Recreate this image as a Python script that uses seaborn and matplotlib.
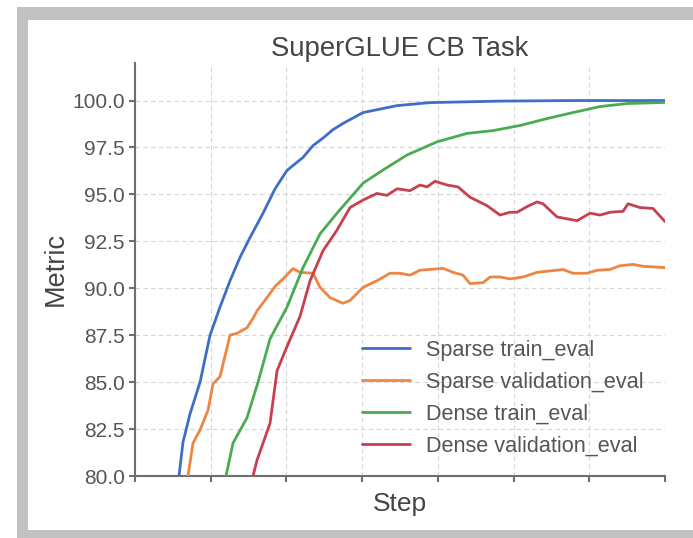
import matplotlib
matplotlib.use("Agg")
import matplotlib.pyplot as plt
from matplotlib.patches import Rectangle
import pandas as pd
import seaborn as sns

# Evaluation curves (step, metric) for each run
sparse_train_steps = [581, 634, 726, 859, 991, 1123, 1255, 1387, 1519, 1691, 1850, 2008,
                      2219, 2351, 2483, 2615, 2747, 3012, 3461, 3896, 4821, 5800, 7000]
sparse_train_vals = [80.0, 81.8, 83.3, 85.0, 87.5, 89.0, 90.4, 91.65, 92.7, 94.0, 95.3, 96.28,
                     96.97, 97.6, 98.0, 98.45, 98.78, 99.36, 99.73, 99.89, 99.97, 100.0, 100.0]

sparse_val_steps = [700, 766, 859, 964, 1030, 1123, 1255, 1347, 1479, 1559, 1612, 1743,
                    1850, 1955, 2087, 2179, 2351, 2444, 2576, 2747, 2840, 3012, 3196,
                    3368, 3500, 3632, 3764, 4068, 4200, 4332, 4425, 4597, 4689, 4821,
                    4953, 5125, 5310, 5653, 5785, 5970, 6102, 6274, 6406, 6578, 6710, 7000]
sparse_val_vals = [80.0, 81.75, 82.45, 83.5, 84.9, 85.3, 87.5, 87.6, 87.9, 88.4, 88.8, 89.5,
                   90.1, 90.5, 91.05, 90.85, 90.8, 90.05, 89.5, 89.2, 89.35, 90.05, 90.4,
                   90.8, 90.8, 90.7, 90.96, 91.06, 90.85, 90.7, 90.25, 90.3, 90.6, 90.6,
                   90.5, 90.6, 90.85, 91.0, 90.8, 90.8, 90.96, 91.0, 91.2, 91.27, 91.17, 91.1]

dense_train_steps = [1202, 1294, 1479, 1625, 1783, 2008, 2219, 2444, 2668, 2840, 3012,
                     3276, 3593, 3989, 4385, 4729, 5085, 5442, 5785, 6142, 6499, 7000]
dense_train_vals = [80.0, 81.75, 83.1, 85.0, 87.3, 89.0, 91.1, 92.9, 94.0, 94.8, 95.6,
                    96.3, 97.1, 97.8, 98.25, 98.4, 98.67, 99.04, 99.36, 99.68, 99.84, 99.9]

dense_val_steps = [1559, 1612, 1691, 1783, 1876, 2008, 2179, 2312, 2483, 2668, 2840, 3012,
                   3196, 3329, 3461, 3632, 3764, 3857, 3962, 4121, 4266, 4425, 4649, 4821,
                   4953, 5046, 5178, 5310, 5389, 5574, 5706, 5838, 6010, 6142, 6274, 6446,
                   6512, 6670, 6842, 7000]
dense_val_vals = [80.0, 80.85, 81.75, 82.8, 85.6, 86.9, 88.5, 90.4, 92.0, 93.1, 94.3, 94.7,
                  95.05, 94.95, 95.3, 95.2, 95.5, 95.4, 95.7, 95.5, 95.4, 94.85, 94.4, 93.9,
                  94.05, 94.05, 94.35, 94.6, 94.5, 93.8, 93.7, 93.6, 94.0, 93.9, 94.05, 94.1,
                  94.5, 94.3, 94.25, 93.55]

run_names = ["Sparse train_eval", "Sparse validation_eval",
             "Dense train_eval", "Dense validation_eval"]
run_colors = ["#3f6ec6", "#ec8642", "#49ab52", "#c8404e"]
y_ticks = [80.0, 82.5, 85.0, 87.5, 90.0, 92.5, 95.0, 97.5, 100.0]
x_ticks = [0, 1000, 2000, 3000, 4000, 5000, 6000, 7000]

frames = []
for name, steps, vals in zip(
        run_names,
        [sparse_train_steps, sparse_val_steps, dense_train_steps, dense_val_steps],
        [sparse_train_vals, sparse_val_vals, dense_train_vals, dense_val_vals]):
    frames.append(pd.DataFrame({"step": steps, "metric": vals, "run": name}))
df = pd.concat(frames, ignore_index=True)

sns.set_theme(style="ticks")
plt.rcParams["font.family"] = ["Liberation Sans", "DejaVu Sans"]

fig = plt.figure(figsize=(6.93, 5.38), dpi=100)
fig.patch.set_facecolor("white")

# grey card frame around the panel
W, H = 693.0, 538.0
fig.patches.append(Rectangle((17 / W, 0), 1 - 17 / W, (538 - 7) / H,
                             transform=fig.transFigure, facecolor="#c2c2c2",
                             edgecolor="none", zorder=-3))
fig.patches.append(Rectangle((28 / W, 8 / H), 1, (530 - 20) / H,
                             transform=fig.transFigure, facecolor="white",
                             edgecolor="none", zorder=-2))

ax = fig.add_axes([135 / W, 1 - 476 / H, (665 - 135) / W, (476 - 63) / H])
ax.set_facecolor("none")

sns.lineplot(data=df, x="step", y="metric", hue="run", hue_order=run_names,
             palette=run_colors, linewidth=2.0, estimator=None, ax=ax, legend=False,
             zorder=3)

ax.set_xlim(0, 7000)
ax.set_ylim(80, 102)
ax.set_xticks(x_ticks)
ax.set_xticklabels([])
ax.set_yticks(y_ticks)
ax.set_yticklabels([f"{v:.1f}" for v in y_ticks])

ax.grid(True, color="#d4d4d4", linestyle=(0, (4, 3)), linewidth=0.8, zorder=0)
for side in ["top", "right"]:
    ax.spines[side].set_visible(False)
for side in ["left", "bottom"]:
    ax.spines[side].set_color("#6e6e6e")
    ax.spines[side].set_linewidth(1.5)
ax.tick_params(axis="both", colors="#6e6e6e", length=4, width=1.5,
               labelsize=15, labelcolor="#555555")

ax.set_title("SuperGLUE CB Task", fontsize=19.8, color="#444444", pad=5)
ax.set_xlabel("Step", fontsize=19, color="#444444", labelpad=4)
ax.set_ylabel("Metric", fontsize=19.5, color="#444444", labelpad=2)

handles = [plt.Line2D([], [], color=c, linewidth=2.0) for c in run_colors]
ax.legend(handles, run_names, loc="upper left", bbox_to_anchor=(0.428, 0.33),
          frameon=False, fontsize=15.6, handlelength=2.2, handletextpad=0.75,
          labelspacing=0.5, borderpad=0, borderaxespad=0, labelcolor="#555555")

fig.savefig("out.png", dpi=100, facecolor="white")
